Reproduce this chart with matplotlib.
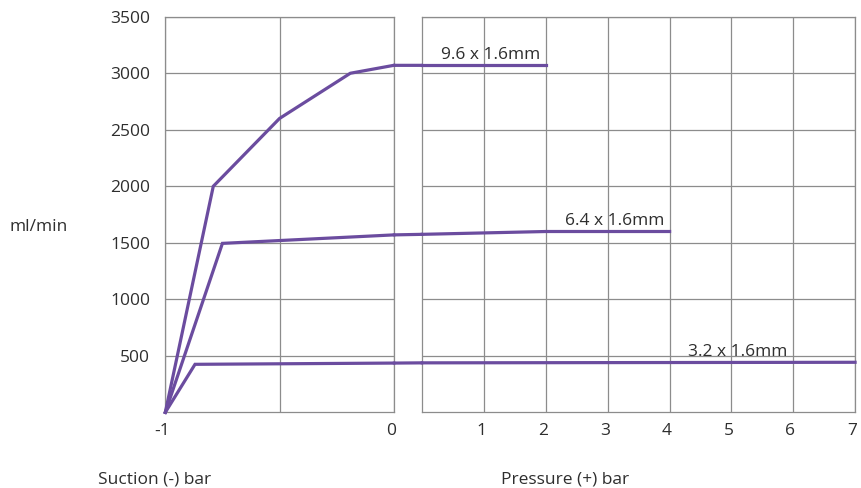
import matplotlib
matplotlib.use("Agg")
import matplotlib.pyplot as plt
import matplotlib.transforms as mtransforms
from matplotlib.patches import ConnectionPatch

plt.rcParams['font.family'] = ['Open Sans', 'DejaVu Sans']
plt.rcParams['font.size'] = 12.5

# flow (ml/min) per tube size, suction side (bar) and pressure side (bar)
series_names = ["9.6 x 1.6mm", "6.4 x 1.6mm", "3.2 x 1.6mm"]
suction_x = [[-1, -0.79, -0.5, -0.19, 0],
             [-1, -0.75, -0.5, 0],
             [-1, -0.87, 0]]
suction_y = [[0, 2000, 2600, 3000, 3070],
             [0, 1495, 1520, 1570],
             [0, 425, 436]]
pressure_x = [[0, 2],
              [0, 2, 4],
              [0, 7]]
pressure_y = [[3070, 3070],
              [1575, 1600, 1600],
              [438, 443]]
label_x = [2, 4, 6]
label_y = [3070, 1600, 443]

y_ticks = [500, 1000, 1500, 2000, 2500, 3000, 3500]
suction_ticks = [-1, -0.5, 0]
suction_ticklabels = ["-1", "", "0"]
pressure_ticks = [1, 2, 3, 4, 5, 6, 7]

purple = '#6b4c9f'
grid_col = '#8c8c8c'
text_col = '#2e2e2e'

fig = plt.figure(figsize=(8.61, 4.88), dpi=100)
ax1 = fig.add_axes([0.192, 0.155, 0.2653, 0.8107])
ax2 = fig.add_axes([0.4905, 0.155, 0.5026, 0.8107])

for ax in (ax1, ax2):
    ax.set_ylim(0, 3500)
    ax.set_yticks(y_ticks)
    ax.grid(True, color=grid_col, linewidth=0.9)
    ax.set_axisbelow(True)
    for sp in ax.spines.values():
        sp.set_color(grid_col)
        sp.set_linewidth(0.9)
    ax.tick_params(length=0, colors=text_col, labelsize=12.5)

ax1.set_xlim(-1, 0)
ax1.set_xticks(suction_ticks)
ax1.set_xticklabels(suction_ticklabels)
ax1.tick_params(axis='x', pad=8)
ax1.tick_params(axis='y', pad=11)

ax2.set_xlim(0, 7)
ax2.set_xticks(pressure_ticks)
ax2.tick_params(axis='x', pad=8)
ax2.set_yticklabels([])

# x labels sit a little left of their gridlines in the original
shift = mtransforms.ScaledTranslation(-3 / 100, 0, fig.dpi_scale_trans)
for ax in (ax1, ax2):
    for lab in ax.get_xticklabels():
        lab.set_transform(lab.get_transform() + shift)

lw = 2.3
for i in range(len(series_names)):
    ax1.plot(suction_x[i], suction_y[i], color=purple, lw=lw,
             solid_joinstyle='miter', clip_on=False, zorder=3)
    ax2.plot(pressure_x[i], pressure_y[i], color=purple, lw=lw,
             solid_joinstyle='miter', clip_on=False, zorder=3)
    # bridge the gap between the two panels
    con = ConnectionPatch(xyA=(suction_x[i][-1], suction_y[i][-1]), coordsA=ax1.transData,
                          xyB=(pressure_x[i][0], pressure_y[i][0]), coordsB=ax2.transData,
                          arrowstyle='-', color=purple, lw=lw, shrinkA=0, shrinkB=0)
    fig.add_artist(con)
    ax2.annotate(series_names[i], xy=(label_x[i], label_y[i]), xytext=(-4, 2),
                 textcoords='offset points', ha='right', va='bottom',
                 color=text_col, fontsize=12.5)

fig.text(39 / 861, 1 - 227 / 488, "ml/min", ha='center', va='center', color=text_col)
fig.text(155 / 861, 1 - 480 / 488, "Suction (-) bar", ha='center', va='center', color=text_col)
fig.text(565 / 861, 1 - 480 / 488, "Pressure (+) bar", ha='center', va='center', color=text_col)

fig.savefig("out.png", dpi=100)
